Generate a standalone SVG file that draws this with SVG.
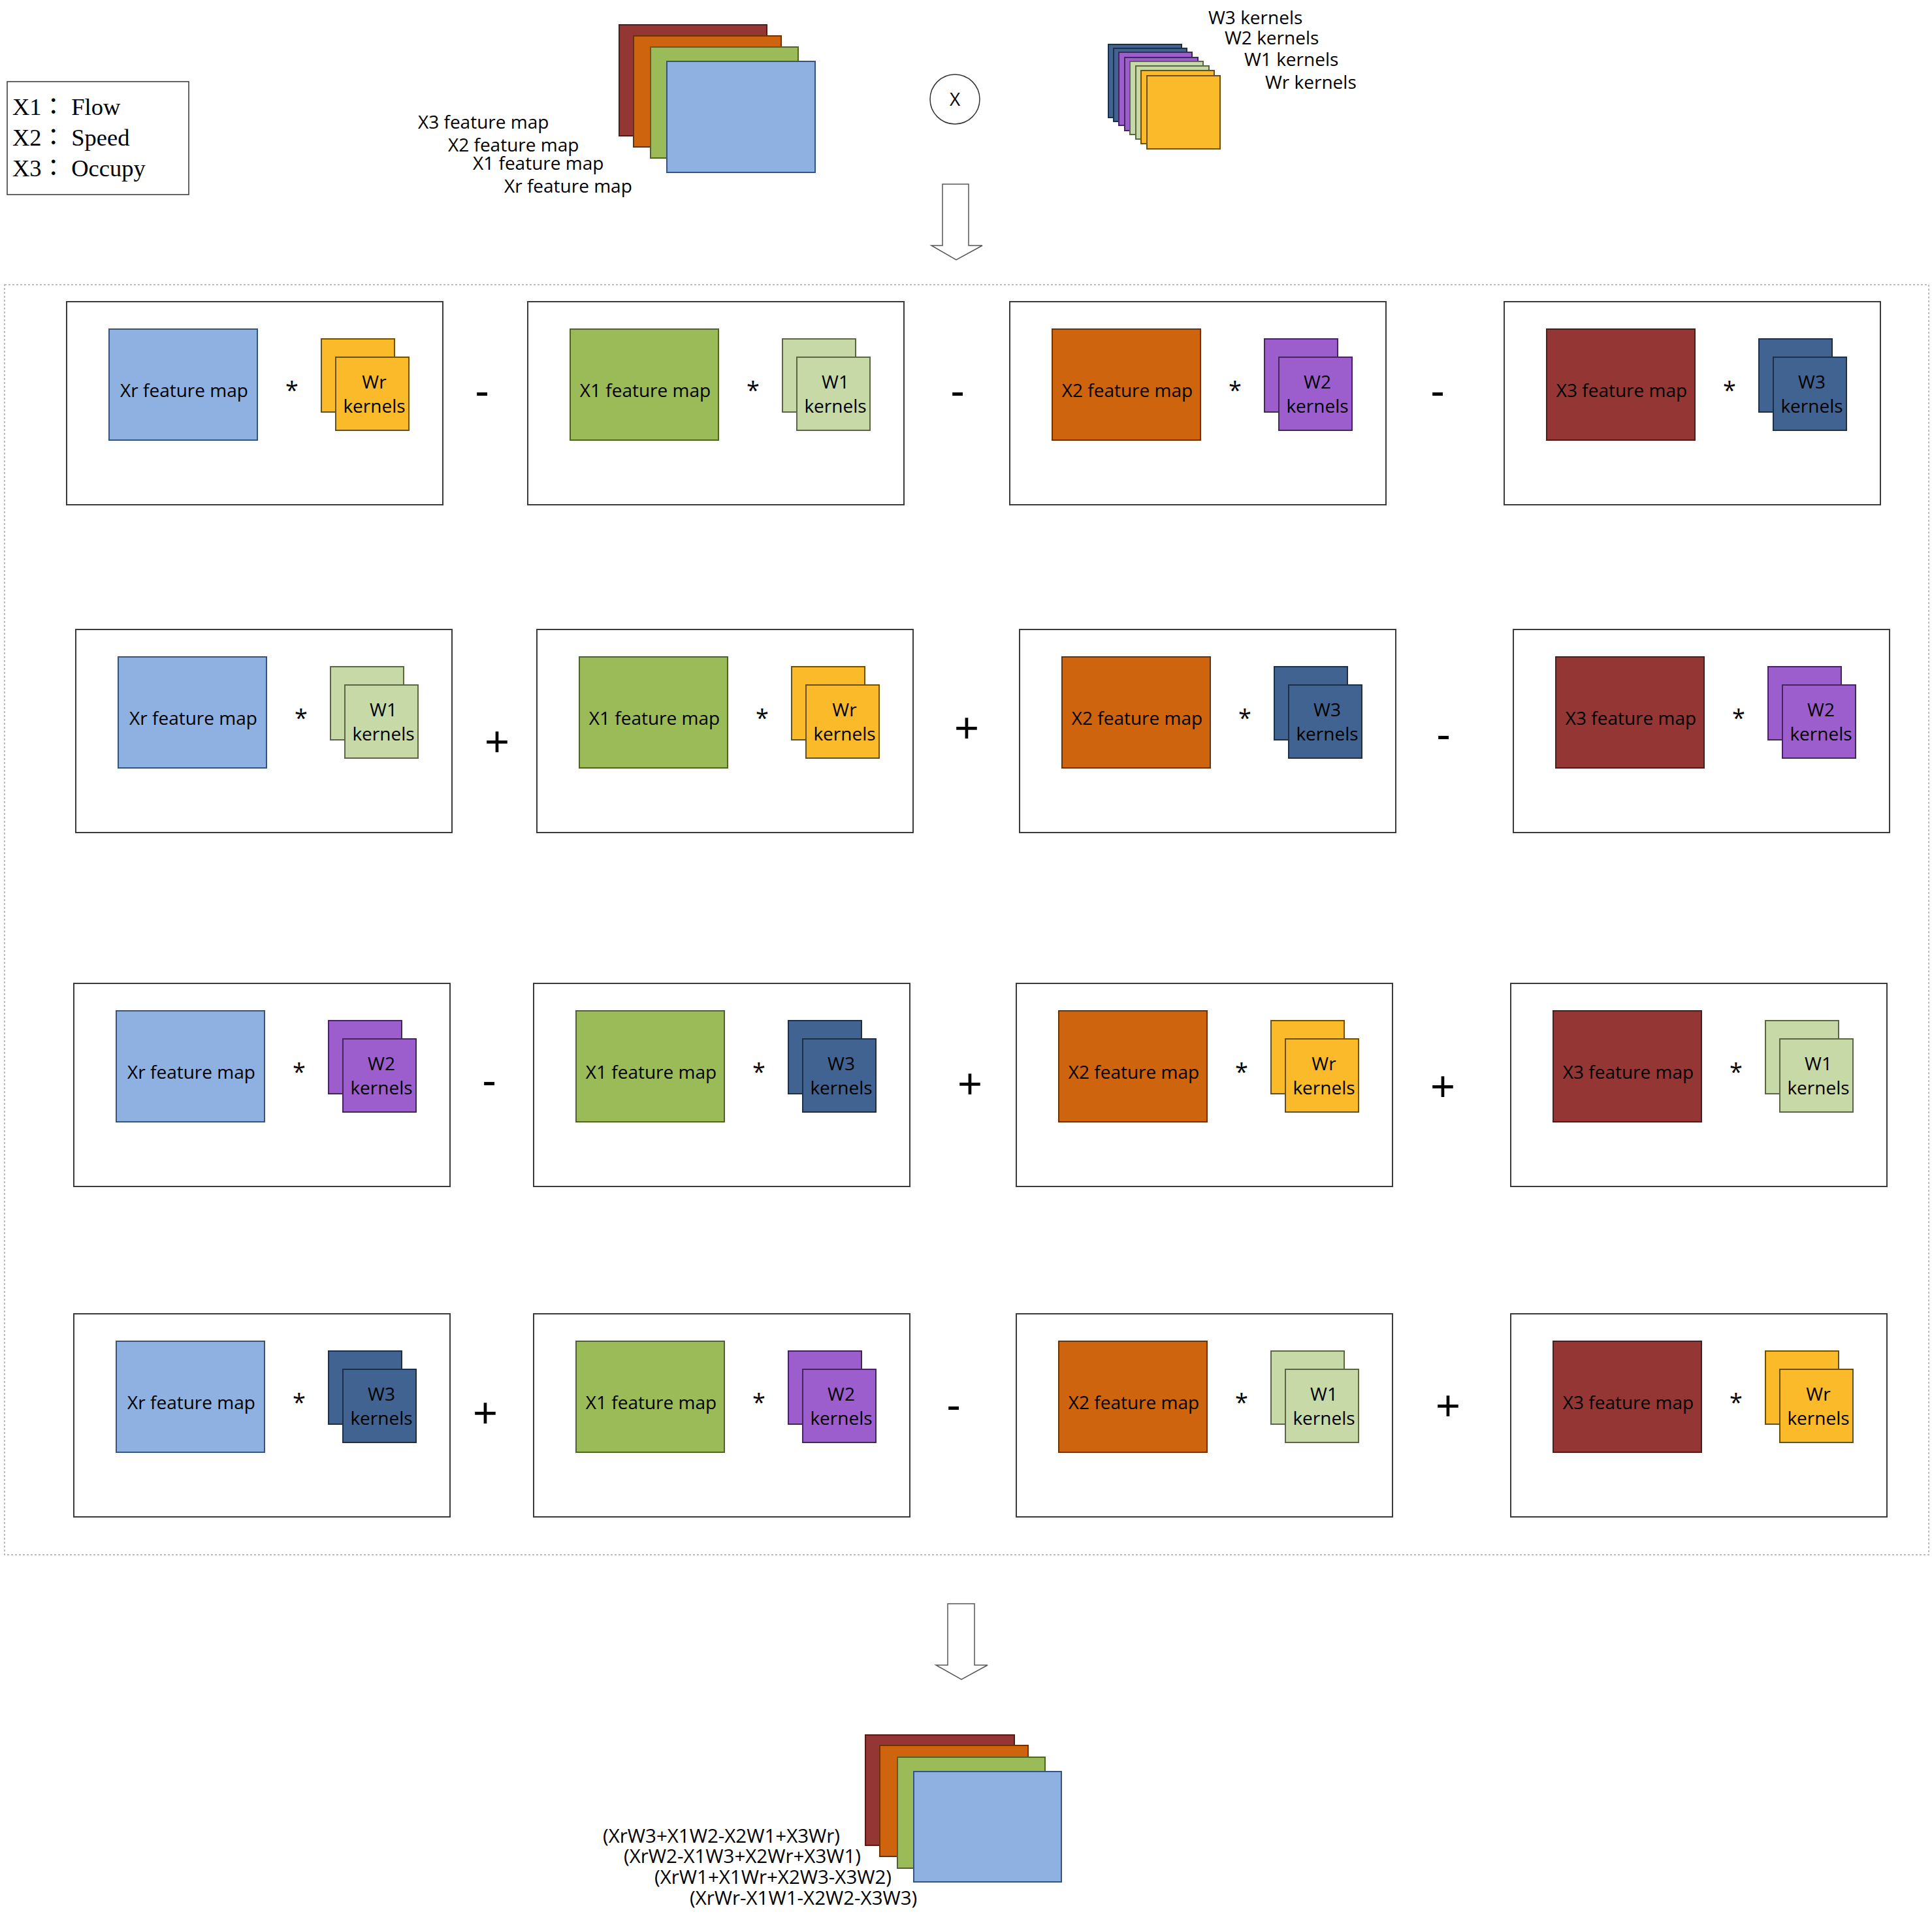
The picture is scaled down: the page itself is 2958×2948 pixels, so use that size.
<svg xmlns="http://www.w3.org/2000/svg" width="2958" height="2948" viewBox="0 0 2958 2948">
<style>
.bg{fill:#ffffff}
.panel{fill:#ffffff;stroke:#3a3a3a;stroke-width:2}
.cont{fill:none;stroke:#a8a8a8;stroke-width:1.5;stroke-dasharray:3 3}
.legend{fill:#ffffff;stroke:#333333;stroke-width:1.5}
.xr{fill:#8EB1E2;stroke:#36557d;stroke-width:2}
.x1{fill:#9BBB59;stroke:#4f6428;stroke-width:2}
.x2{fill:#CF640F;stroke:#6b3206;stroke-width:2}
.x3{fill:#943734;stroke:#4f1c1a;stroke-width:2}
.wr{fill:#FBBA29;stroke:#6b4f0c;stroke-width:2}
.w1{fill:#C8D9A8;stroke:#5a6644;stroke-width:2}
.w2{fill:#9C5ECD;stroke:#45255e;stroke-width:2}
.w3{fill:#416391;stroke:#1d2f47;stroke-width:2}
.t{font-family:"Open Sans","Liberation Sans",sans-serif;font-size:28px;fill:#000000}
.tb{font-family:"Open Sans","Liberation Sans",sans-serif;font-size:29.5px;fill:#000000}
.c{text-anchor:middle}
.ast{font-family:"Open Sans","Liberation Sans",sans-serif;font-size:36px;fill:#000000;text-anchor:middle}
.op{font-family:"Liberation Sans",sans-serif;font-size:65px;fill:#000000;text-anchor:middle}
.lg{font-family:"Liberation Serif","Noto Sans CJK TC",serif;font-size:36.5px;fill:#000000}
.arrow{fill:#ffffff;stroke:#555555;stroke-width:1.5}
.circ{fill:#ffffff;stroke:#333333;stroke-width:1.5}
</style>
<rect class="bg" x="0" y="0" width="2958" height="2948"/>

<g id="legend">
<rect class="legend" x="11" y="125" width="278" height="173"/>
<text class="lg" x="19" y="176">X1： Flow</text>
<text class="lg" x="19" y="223">X2： Speed</text>
<text class="lg" x="19" y="270">X3： Occupy</text>
</g>

<g id="input-stack">
<rect class="x3" x="948" y="38" width="226" height="170"/>
<rect class="x2" x="970" y="55" width="226" height="170"/>
<rect class="x1" x="996" y="72" width="226" height="170"/>
<rect class="xr" x="1021" y="94" width="227" height="170"/>
<text class="t" x="640" y="197">X3 feature map</text>
<text class="t" x="686" y="232">X2 feature map</text>
<text class="t" x="724" y="260">X1 feature map</text>
<text class="t" x="772" y="295">Xr feature map</text>
</g>

<g id="multiply">
<circle class="circ" cx="1462" cy="152" r="38"/>
<text class="t c" x="1462" y="162">X</text>
</g>

<g id="kernel-stack">
<rect class="w3" x="1697" y="68" width="112" height="112"/>
<rect class="w3" x="1705" y="74" width="112" height="112"/>
<rect class="w2" x="1713" y="80" width="112" height="112"/>
<rect class="w2" x="1722" y="88" width="112" height="112"/>
<rect class="w1" x="1730" y="94" width="112" height="112"/>
<rect class="w1" x="1739" y="101" width="112" height="112"/>
<rect class="wr" x="1747" y="108" width="112" height="112"/>
<rect class="wr" x="1756" y="116" width="112" height="112"/>
<text class="t" x="1850" y="37">W3 kernels</text>
<text class="t" x="1875" y="68">W2 kernels</text>
<text class="t" x="1905" y="101">W1 kernels</text>
<text class="t" x="1937" y="136">Wr kernels</text>
</g>

<g id="connectors">
<polygon class="arrow" points="1443,282 1483,282 1483,376 1504,376 1464,398 1426,376 1443,376"/>
<polygon class="arrow" points="1451,2456 1492,2456 1492,2550 1512,2550 1472,2572 1433,2550 1451,2550"/>
</g>

<g id="container">
<rect class="cont" x="7" y="436" width="2946" height="1945"/>
</g>

<!-- Row 1 -->
<g id="p11" transform="translate(102,462)">
<rect class="panel" width="576" height="311"/>
<rect class="xr" x="65" y="42" width="227" height="170"/>
<text class="t c" x="180" y="146">Xr feature map</text>
<text class="ast" x="345" y="148">*</text>
<rect class="wr" x="390" y="57" width="112" height="112"/>
<rect class="wr" x="412" y="85" width="112" height="112"/>
<text class="t c" x="471" y="133">Wr</text>
<text class="t c" x="471" y="170">kernels</text>
</g>
<g id="p12" transform="translate(808,462)">
<rect class="panel" width="576" height="311"/>
<rect class="x1" x="65" y="42" width="227" height="170"/>
<text class="t c" x="180" y="146">X1 feature map</text>
<text class="ast" x="345" y="148">*</text>
<rect class="w1" x="390" y="57" width="112" height="112"/>
<rect class="w1" x="412" y="85" width="112" height="112"/>
<text class="t c" x="471" y="133">W1</text>
<text class="t c" x="471" y="170">kernels</text>
</g>
<g id="p13" transform="translate(1546,462)">
<rect class="panel" width="576" height="311"/>
<rect class="x2" x="65" y="42" width="227" height="170"/>
<text class="t c" x="180" y="146">X2 feature map</text>
<text class="ast" x="345" y="148">*</text>
<rect class="w2" x="390" y="57" width="112" height="112"/>
<rect class="w2" x="412" y="85" width="112" height="112"/>
<text class="t c" x="471" y="133">W2</text>
<text class="t c" x="471" y="170">kernels</text>
</g>
<g id="p14" transform="translate(2303,462)">
<rect class="panel" width="576" height="311"/>
<rect class="x3" x="65" y="42" width="227" height="170"/>
<text class="t c" x="180" y="146">X3 feature map</text>
<text class="ast" x="345" y="148">*</text>
<rect class="w3" x="390" y="57" width="112" height="112"/>
<rect class="w3" x="412" y="85" width="112" height="112"/>
<text class="t c" x="471" y="133">W3</text>
<text class="t c" x="471" y="170">kernels</text>
</g>

<!-- Row 2 -->
<g id="p21" transform="translate(116,964)">
<rect class="panel" width="576" height="311"/>
<rect class="xr" x="65" y="42" width="227" height="170"/>
<text class="t c" x="180" y="146">Xr feature map</text>
<text class="ast" x="345" y="148">*</text>
<rect class="w1" x="390" y="57" width="112" height="112"/>
<rect class="w1" x="412" y="85" width="112" height="112"/>
<text class="t c" x="471" y="133">W1</text>
<text class="t c" x="471" y="170">kernels</text>
</g>
<g id="p22" transform="translate(822,964)">
<rect class="panel" width="576" height="311"/>
<rect class="x1" x="65" y="42" width="227" height="170"/>
<text class="t c" x="180" y="146">X1 feature map</text>
<text class="ast" x="345" y="148">*</text>
<rect class="wr" x="390" y="57" width="112" height="112"/>
<rect class="wr" x="412" y="85" width="112" height="112"/>
<text class="t c" x="471" y="133">Wr</text>
<text class="t c" x="471" y="170">kernels</text>
</g>
<g id="p23" transform="translate(1561,964)">
<rect class="panel" width="576" height="311"/>
<rect class="x2" x="65" y="42" width="227" height="170"/>
<text class="t c" x="180" y="146">X2 feature map</text>
<text class="ast" x="345" y="148">*</text>
<rect class="w3" x="390" y="57" width="112" height="112"/>
<rect class="w3" x="412" y="85" width="112" height="112"/>
<text class="t c" x="471" y="133">W3</text>
<text class="t c" x="471" y="170">kernels</text>
</g>
<g id="p24" transform="translate(2317,964)">
<rect class="panel" width="576" height="311"/>
<rect class="x3" x="65" y="42" width="227" height="170"/>
<text class="t c" x="180" y="146">X3 feature map</text>
<text class="ast" x="345" y="148">*</text>
<rect class="w2" x="390" y="57" width="112" height="112"/>
<rect class="w2" x="412" y="85" width="112" height="112"/>
<text class="t c" x="471" y="133">W2</text>
<text class="t c" x="471" y="170">kernels</text>
</g>

<!-- Row 3 -->
<g id="p31" transform="translate(113,1506)">
<rect class="panel" width="576" height="311"/>
<rect class="xr" x="65" y="42" width="227" height="170"/>
<text class="t c" x="180" y="146">Xr feature map</text>
<text class="ast" x="345" y="148">*</text>
<rect class="w2" x="390" y="57" width="112" height="112"/>
<rect class="w2" x="412" y="85" width="112" height="112"/>
<text class="t c" x="471" y="133">W2</text>
<text class="t c" x="471" y="170">kernels</text>
</g>
<g id="p32" transform="translate(817,1506)">
<rect class="panel" width="576" height="311"/>
<rect class="x1" x="65" y="42" width="227" height="170"/>
<text class="t c" x="180" y="146">X1 feature map</text>
<text class="ast" x="345" y="148">*</text>
<rect class="w3" x="390" y="57" width="112" height="112"/>
<rect class="w3" x="412" y="85" width="112" height="112"/>
<text class="t c" x="471" y="133">W3</text>
<text class="t c" x="471" y="170">kernels</text>
</g>
<g id="p33" transform="translate(1556,1506)">
<rect class="panel" width="576" height="311"/>
<rect class="x2" x="65" y="42" width="227" height="170"/>
<text class="t c" x="180" y="146">X2 feature map</text>
<text class="ast" x="345" y="148">*</text>
<rect class="wr" x="390" y="57" width="112" height="112"/>
<rect class="wr" x="412" y="85" width="112" height="112"/>
<text class="t c" x="471" y="133">Wr</text>
<text class="t c" x="471" y="170">kernels</text>
</g>
<g id="p34" transform="translate(2313,1506)">
<rect class="panel" width="576" height="311"/>
<rect class="x3" x="65" y="42" width="227" height="170"/>
<text class="t c" x="180" y="146">X3 feature map</text>
<text class="ast" x="345" y="148">*</text>
<rect class="w1" x="390" y="57" width="112" height="112"/>
<rect class="w1" x="412" y="85" width="112" height="112"/>
<text class="t c" x="471" y="133">W1</text>
<text class="t c" x="471" y="170">kernels</text>
</g>

<!-- Row 4 -->
<g id="p41" transform="translate(113,2012)">
<rect class="panel" width="576" height="311"/>
<rect class="xr" x="65" y="42" width="227" height="170"/>
<text class="t c" x="180" y="146">Xr feature map</text>
<text class="ast" x="345" y="148">*</text>
<rect class="w3" x="390" y="57" width="112" height="112"/>
<rect class="w3" x="412" y="85" width="112" height="112"/>
<text class="t c" x="471" y="133">W3</text>
<text class="t c" x="471" y="170">kernels</text>
</g>
<g id="p42" transform="translate(817,2012)">
<rect class="panel" width="576" height="311"/>
<rect class="x1" x="65" y="42" width="227" height="170"/>
<text class="t c" x="180" y="146">X1 feature map</text>
<text class="ast" x="345" y="148">*</text>
<rect class="w2" x="390" y="57" width="112" height="112"/>
<rect class="w2" x="412" y="85" width="112" height="112"/>
<text class="t c" x="471" y="133">W2</text>
<text class="t c" x="471" y="170">kernels</text>
</g>
<g id="p43" transform="translate(1556,2012)">
<rect class="panel" width="576" height="311"/>
<rect class="x2" x="65" y="42" width="227" height="170"/>
<text class="t c" x="180" y="146">X2 feature map</text>
<text class="ast" x="345" y="148">*</text>
<rect class="w1" x="390" y="57" width="112" height="112"/>
<rect class="w1" x="412" y="85" width="112" height="112"/>
<text class="t c" x="471" y="133">W1</text>
<text class="t c" x="471" y="170">kernels</text>
</g>
<g id="p44" transform="translate(2313,2012)">
<rect class="panel" width="576" height="311"/>
<rect class="x3" x="65" y="42" width="227" height="170"/>
<text class="t c" x="180" y="146">X3 feature map</text>
<text class="ast" x="345" y="148">*</text>
<rect class="wr" x="390" y="57" width="112" height="112"/>
<rect class="wr" x="412" y="85" width="112" height="112"/>
<text class="t c" x="471" y="133">Wr</text>
<text class="t c" x="471" y="170">kernels</text>
</g>

<g id="operators">
<text class="op" x="738" y="621">-</text>
<text class="op" x="1466" y="621">-</text>
<text class="op" x="2201" y="621">-</text>
<text class="op" x="761" y="1158">+</text>
<text class="op" x="1480" y="1137">+</text>
<text class="op" x="2210" y="1147">-</text>
<text class="op" x="749" y="1677">-</text>
<text class="op" x="1485" y="1682">+</text>
<text class="op" x="2209" y="1686">+</text>
<text class="op" x="743" y="2186">+</text>
<text class="op" x="1460" y="2174">-</text>
<text class="op" x="2217" y="2175">+</text>
</g>

<g id="output-stack">
<rect class="x3" x="1325" y="2657" width="228" height="169"/>
<rect class="x2" x="1347" y="2673" width="227" height="170"/>
<rect class="x1" x="1374" y="2691" width="226" height="170"/>
<rect class="xr" x="1399" y="2713" width="226" height="169"/>
<text class="tb" x="923" y="2822">(XrW3+X1W2-X2W1+X3Wr)</text>
<text class="tb" x="955" y="2853">(XrW2-X1W3+X2Wr+X3W1)</text>
<text class="tb" x="1002" y="2885">(XrW1+X1Wr+X2W3-X3W2)</text>
<text class="tb" x="1056" y="2917">(XrWr-X1W1-X2W2-X3W3)</text>
</g>
</svg>
